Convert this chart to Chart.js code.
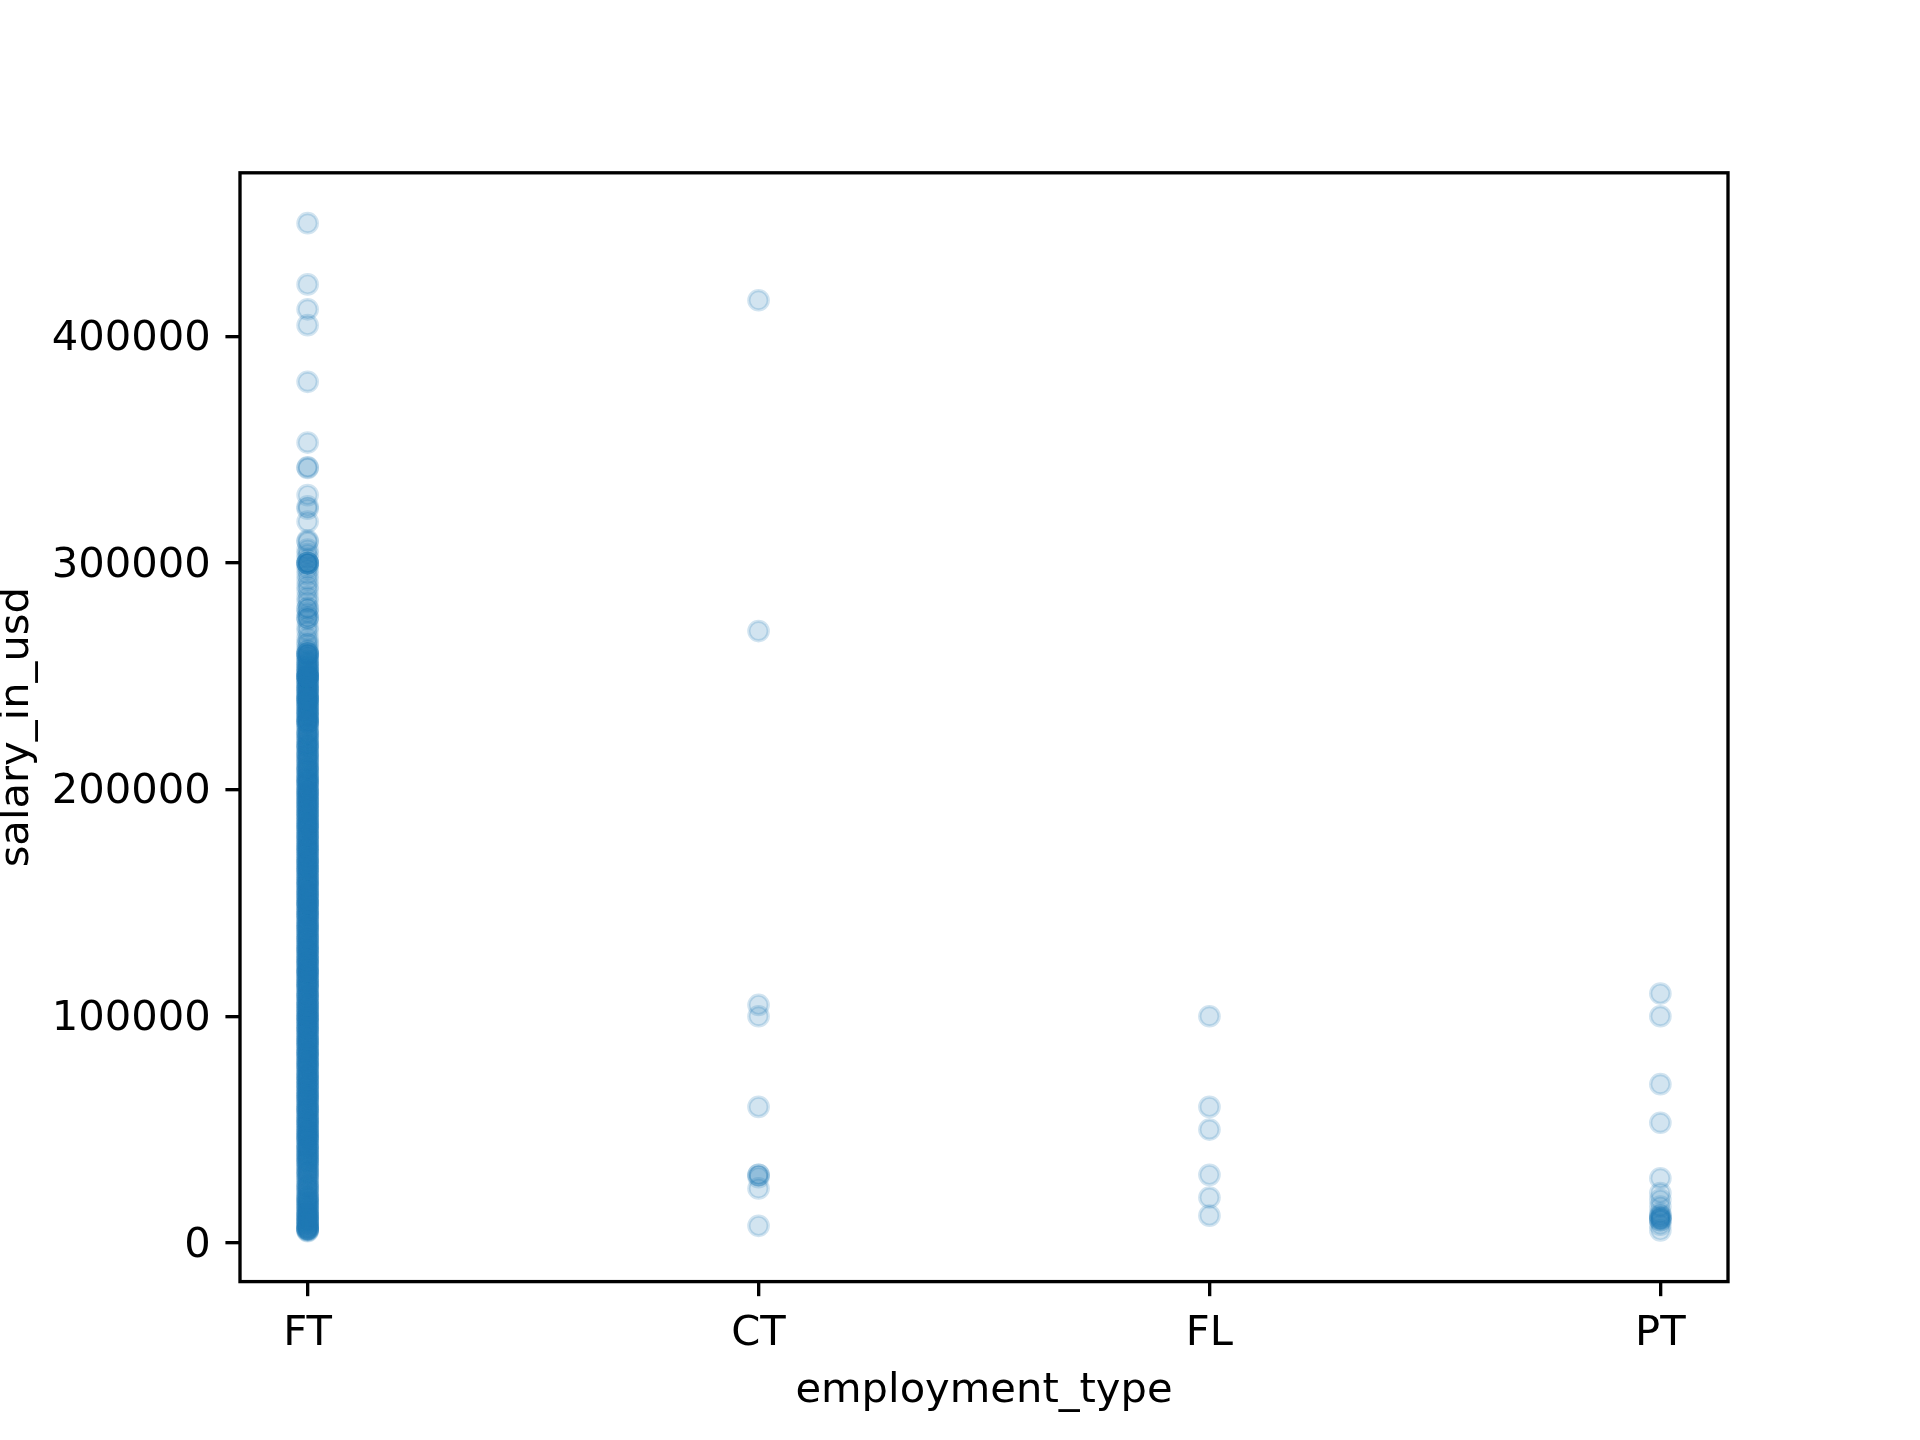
<!DOCTYPE html>
<html>
<head>
<meta charset="utf-8">
<script src="https://cdn.jsdelivr.net/npm/chart.js@4/dist/chart.umd.min.js"></script>
<style>
  body { margin: 0; background: #fff; }
  #chart { display: block; }
</style>
</head>
<body>
<canvas id="chart" width="1920" height="1440"></canvas>
<script>
const categories = ['FT', 'CT', 'FL', 'PT'];
const yTicks = [0, 100000, 200000, 300000, 400000];

// salary_in_usd per employment_type
const ftSalaries = [
  5132, 5409, 5679, 5882, 6072, 6270, 6359, 6500, 7000, 7500, 7799, 8000, 8500, 9272, 9466, 9727,
  10000, 10354, 11000, 11500, 12000, 12103, 12500, 12901, 13400, 14000, 14307, 15000, 15680, 16000,
  16455, 17000, 17684, 18000, 18442, 19000, 19609, 20000, 20171, 21000, 21669, 22611, 23000, 24000,
  24342, 25000, 25532, 26005, 27000, 28016, 28369, 29000, 30000, 30428, 31000, 31615, 32000, 33000,
  33511, 34000, 35000, 35590, 36000, 36259, 37000, 37300, 38000, 38400, 39000, 39263, 40000, 40481,
  41000, 41689, 42000, 42533, 43000, 43331, 44000, 45000, 45391, 45760, 46000, 46759, 47000, 47282,
  48000, 48289, 49000, 49268, 50000, 50000, 51000, 51321, 52000, 52351, 53000, 53192, 54000, 54238,
  55000, 55000, 56000, 56256, 57000, 57786, 58000, 58894, 59000, 59102, 60000, 60000, 61000, 61467,
  62000, 62651, 63000, 63711, 64000, 64849, 65000, 65000, 66000, 66192, 67000, 67358, 68000, 68428,
  69000, 69741, 70000, 70000, 71000, 71786, 72000, 72212, 73000, 73546, 74000, 74130, 75000, 75000,
  76000, 76833, 77000, 77684, 78000, 78526, 79000, 79833, 80000, 80000, 81000, 81666, 82000, 82528,
  83000, 83864, 84000, 84053, 85000, 85000, 86000, 86703, 87000, 87425, 88000, 88654, 89000, 89294,
  90000, 90000, 91000, 91237, 92000, 92350, 93000, 93700, 94000, 94665, 95000, 95000, 96000, 96282,
  97000, 97500, 98000, 98158, 99000, 99360, 100000, 100000, 100000, 101000, 101570, 102000, 102640,
  103000, 103160, 104000, 104890, 105000, 105000, 106000, 106020, 107000, 107250, 108000, 108800,
  109000, 109280, 110000, 110000, 111000, 111775, 112000, 112900, 113000, 113750, 114000, 114500,
  115000, 115000, 116000, 116450, 117000, 117100, 118000, 118800, 119000, 119300, 120000, 120000,
  120000, 121000, 121500, 122000, 122900, 123000, 123400, 124000, 124740, 125000, 125000, 126000,
  126500, 127000, 127221, 128000, 128875, 129000, 129300, 130000, 130000, 131000, 131300, 132000,
  132100, 133000, 133832, 134000, 134236, 135000, 135000, 136000, 136600, 137000, 137500, 138000,
  138750, 139000, 139500, 140000, 140000, 141000, 141300, 142000, 142200, 143000, 143865, 144000,
  144854, 145000, 145000, 146000, 146300, 147000, 147100, 148000, 148700, 149000, 149850, 150000,
  150000, 150000, 151000, 151800, 152000, 152500, 153000, 153600, 154000, 154560, 155000, 155000,
  156000, 156400, 157000, 157750, 158000, 158200, 159000, 159500, 160000, 160000, 161000, 161311,
  162000, 162500, 163000, 163800, 164000, 164996, 165000, 165000, 166000, 166500, 167000, 167580,
  168000, 168100, 169000, 169200, 170000, 170000, 171000, 171250, 172000, 172500, 173000, 173500,
  174000, 174500, 175000, 175000, 176000, 176100, 177000, 177500, 178000, 178600, 179000, 179820,
  180000, 180000, 181000, 181940, 182000, 182750, 183000, 183600, 184000, 184700, 185000, 185000,
  186000, 186300, 187000, 187200, 188000, 188500, 189000, 189650, 190000, 190000, 191000, 191475,
  192000, 192400, 193000, 193500, 194000, 194500, 195000, 195000, 196000, 196500, 197000, 197430,
  198000, 198440, 199000, 199098, 200000, 200000, 201000, 201450, 202000, 202900, 203000, 203500,
  204000, 204500, 205000, 205300, 206000, 206500, 207000, 208000, 208450, 209000, 209100, 210000,
  210000, 211000, 212000, 212200, 213000, 213580, 214000, 215000, 215300, 216000, 216200, 217000,
  218000, 218500, 219000, 219535, 220000, 220000, 221000, 222000, 222200, 223000, 224000, 224400,
  225000, 225000, 226000, 227000, 228000, 228800, 229000, 230000, 230000, 230000,
  230500, 231000, 231500, 232000, 232500, 233000, 233500, 234000, 234500, 235000, 235000, 236000,
  236500, 237000, 237500, 238000, 238500, 239000, 239500, 240000, 240000, 240000, 240500, 241000,
  241500, 242000, 242500, 243000, 243900, 244000, 244500, 245000, 245000, 246000, 246500, 247000,
  247500, 248000, 248500, 249000, 249500, 250000, 250000, 250000, 250000, 250000, 250500, 251000,
  251800, 252000, 252500, 253000, 253750, 254000, 255000, 255000, 256000, 256500, 257000, 258000,
  258750, 259000, 260000, 260000, 260000, 260000, 261000, 262000,
  264000, 265000, 267000, 270000, 272000, 275000, 276000, 276000, 278000, 280000, 280000, 283000,
  285000, 288000, 290000, 292500, 295000, 297300, 299000,
  300000, 300000, 300000, 300000, 300000, 302000, 304000, 306000, 309400, 310000, 318300, 324000, 325000, 330000,
  342000, 342300, 353200, 380000, 405000, 412000, 423000, 450000
];
const ctSalaries = [416000, 270000, 105000, 100000, 60000, 30000, 30000, 29000, 24000, 7500];
const flSalaries = [100000, 60000, 50000, 30000, 20000, 12000];
const ptSalaries = [110000, 100000, 70000, 53000, 28500, 22000, 19000, 16000, 13000, 12000,
  11500, 11000, 10500, 10000, 10000, 8000, 5500];

const groups = [ftSalaries, ctSalaries, flSalaries, ptSalaries];
const points = [];
groups.forEach((vals, i) => vals.forEach(v => points.push({ x: i, y: v })));

// matplotlib style 5% margins
const allY = points.map(p => p.y);
const yLo = Math.min(...allY), yHi = Math.max(...allY);
const yPad = (yHi - yLo) * 0.05;
const xPad = (categories.length - 1) * 0.05;

const PX = 300 / 72; // points -> pixels at 300 dpi
const font = { family: 'DejaVu Sans', size: 10 * PX };

const frame = {
  id: 'frame',
  afterDatasetsDraw(chart) {
    const { ctx, chartArea: a } = chart;
    ctx.save();
    ctx.strokeStyle = '#000';
    ctx.lineWidth = 0.8 * PX;
    ctx.strokeRect(a.left, a.top, a.right - a.left, a.bottom - a.top);
    ctx.restore();
  }
};

new Chart(document.getElementById('chart'), {
  type: 'scatter',
  data: {
    datasets: [{
      data: points,
      backgroundColor: 'rgba(31,119,180,0.2)',
      borderColor: 'rgba(31,119,180,0.2)',
      borderWidth: 3.3,
      pointRadius: 9.7,
      pointHoverRadius: 9.7
    }]
  },
  options: {
    responsive: false,
    devicePixelRatio: 1,
    animation: false,
    events: [],
    layout: { padding: { top: 172.8, right: 192, left: 0, bottom: 0 } },
    plugins: { legend: { display: false }, tooltip: { enabled: false } },
    scales: {
      x: {
        type: 'linear',
        min: -xPad,
        max: categories.length - 1 + xPad,
        afterBuildTicks: s => { s.ticks = categories.map((c, i) => ({ value: i })); },
        afterFit: s => { s.height = 1440 - 1281.6; },
        border: { display: false },
        grid: { drawOnChartArea: false, drawTicks: true, tickLength: 3.5 * PX, color: '#000', lineWidth: 0.8 * PX },
        ticks: {
          color: '#000', font, padding: 3.5 * PX - 2, maxRotation: 0, autoSkip: false,
          callback: v => categories[v]
        },
        title: { display: true, text: 'employment_type', color: '#000', font, padding: { top: 0, bottom: 24 } }
      },
      y: {
        min: yLo - yPad,
        max: yHi + yPad,
        afterBuildTicks: s => { s.ticks = yTicks.map(v => ({ value: v })); },
        afterFit: s => { s.width = 240; },
        border: { display: false },
        grid: { drawOnChartArea: false, drawTicks: true, tickLength: 3.5 * PX, color: '#000', lineWidth: 0.8 * PX },
        ticks: { color: '#000', font, padding: 3.5 * PX, labelOffset: 3, callback: v => String(v) },
        title: { display: true, text: 'salary_in_usd', color: '#000', font, padding: { top: -8, bottom: 0 } }
      }
    }
  },
  plugins: [frame]
});
</script>
</body>
</html>
